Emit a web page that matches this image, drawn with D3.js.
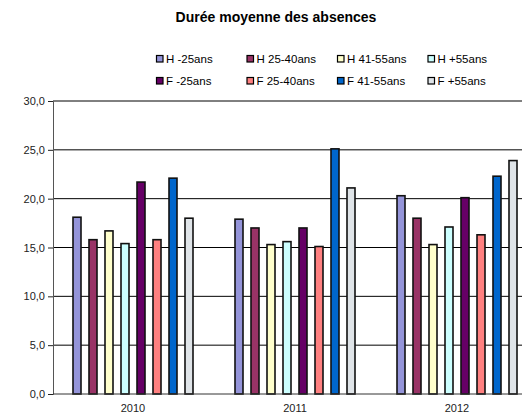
<!DOCTYPE html>
<html><head><meta charset="utf-8">
<script src="https://cdn.jsdelivr.net/npm/d3@7"></script>
<style>body{margin:0;background:#fff}svg{display:block}text{font-family:"Liberation Sans",Arial,sans-serif}</style>
</head><body>
<script>
const years = ["2010","2011","2012"];
const series = ["H -25ans","H 25-40ans","H 41-55ans","H +55ans","F -25ans","F 25-40ans","F 41-55ans","F +55ans"];
const colors = ["#9494D9","#993366","#FFFFCC","#CCFFFF","#660066","#FF8080","#0066CC","#DFE4E8"];
const values2010 = [18.1,15.8,16.7,15.4,21.7,15.8,22.1,18.0];
const values2011 = [17.9,17.0,15.3,15.6,17.0,15.1,25.1,21.1];
const values2012 = [20.3,18.0,15.3,17.1,20.1,16.3,22.3,23.9];
const yTicks = [0,5,10,15,20,25,30];
const title = "Durée moyenne des absences";

const allValues = [values2010, values2011, values2012];
const W = 522, H = 413;
const svg = d3.select("body").append("svg").attr("width", W).attr("height", H);

const x = d3.scaleBand().domain(years).range([52, 538]);
const xi = d3.scaleBand().domain(series).range([17, 145]).paddingInner(0.5).paddingOuter(0.25);
const y = d3.scaleLinear().domain([0, 30]).range([394, 101]);

// title
svg.append("text").attr("x", 276).attr("y", 22).attr("text-anchor", "middle")
  .style("font-size", "14px").style("font-weight", "bold").text(title);

// legend
const leg = svg.append("g");
series.forEach((s, i) => {
  const col = i % 4, row = Math.floor(i / 4);
  const lx = 156 + col * 90.5, ly = 59 + row * 22;
  leg.append("rect").attr("x", lx + 0.5).attr("y", ly - 3.5).attr("width", 6.5).attr("height", 6.5)
    .attr("fill", colors[i]).attr("stroke", "#000").attr("stroke-width", 1.2);
  leg.append("text").attr("x", lx + 10).attr("y", ly + 4).style("font-size", "11.5px").text(s);
});

// grid lines
svg.append("g").selectAll("line").data(yTicks.filter(d => d > 0)).join("line")
  .attr("x1", 53).attr("x2", 540).attr("y1", d => y(d)).attr("y2", d => y(d))
  .attr("stroke", "#000").attr("stroke-width", 1);

// y axis
const yAxis = d3.axisLeft(y).tickValues(yTicks).tickSize(5).tickPadding(3)
  .tickFormat(d => d3.format(".1f")(d).replace(".", ","));
const ga = svg.append("g").attr("transform", "translate(53,0)").call(yAxis);
ga.select(".domain").attr("stroke", "#555");
ga.selectAll(".tick line").attr("stroke", "#222");
ga.selectAll("text").style("font-size", "11px").attr("fill", "#222").style("font-family", '"Liberation Sans",Arial,sans-serif');

// bars
const groups = svg.append("g").selectAll("g").data(years).join("g")
  .attr("transform", d => `translate(${x(d)},0)`);
groups.selectAll("rect").data((d, gi) => series.map((s, i) => ({s, i, v: allValues[gi][i]}))).join("rect")
  .attr("x", d => xi(d.s)).attr("width", xi.bandwidth())
  .attr("y", d => y(d.v)).attr("height", d => y(0) - y(d.v))
  .attr("fill", d => colors[d.i]).attr("stroke", "#111").attr("stroke-width", 1.6);

// x axis baseline
svg.append("line").attr("x1", 53).attr("x2", 540).attr("y1", y(0)).attr("y2", y(0)).attr("stroke", "#333");

// x labels
svg.append("g").selectAll("text").data(years).join("text")
  .attr("x", d => x(d) + x.bandwidth() / 2).attr("y", 412).attr("text-anchor", "middle")
  .style("font-size", "11px").attr("fill", "#222").text(d => d);
</script>
</body></html>
